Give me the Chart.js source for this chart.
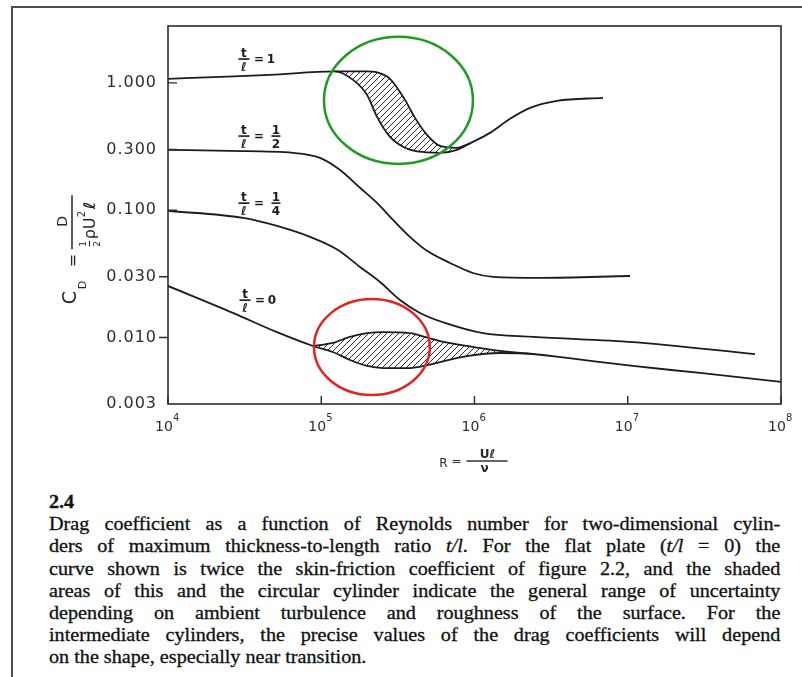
<!DOCTYPE html>
<html>
<head>
<meta charset="utf-8">
<title>Drag coefficient vs Reynolds number</title>
<script src="https://cdn.jsdelivr.net/npm/chart.js@4.4.0/dist/chart.umd.min.js"></script>
<style>
  html, body { margin: 0; padding: 0; background: #fff; }
  body { position: relative; width: 802px; height: 677px; overflow: hidden; }
  #pagina { position: absolute; left: 11px; top: 6px; width: 800px; height: 680px;
            border-left: 2px solid #505050; border-top: 2px solid #505050; }
  #grafico { position: absolute; left: 0; top: 0; }
  #legenda { position: absolute; left: 49px; top: 491px; width: 653px;
             transform: scaleX(1.12); transform-origin: 0 0;
             font-family: "Liberation Serif", "Times New Roman", serif; font-size: 18px;
             line-height: 22.2px; color: #111; -webkit-text-stroke: 0.3px #111; }
  #legenda .num { font-weight: bold; }
  #legenda .linha { display: flex; justify-content: space-between; white-space: nowrap; }
  #legenda .ultima { white-space: nowrap; }
</style>
</head>
<body>
<div id="pagina"></div>
<canvas id="grafico" width="802" height="480"></canvas>
<div id="legenda"></div>

<script>
// Valores: R = número de Reynolds, Cd = coeficiente de arrasto
const ticksR = [1e4, 1e5, 1e6, 1e7, 1e8];
const ticksCd = [0.003, 0.01, 0.03, 0.1, 0.3, 1];

// t/l = 1 (curva principal, transição cedo)
const r1 = [1e4, 2.18e4, 4.63e4, 1.229e5, 1.612e5, 1.988e5, 2.312e5, 2.810e5, 3.520e5, 4.090e5,
            4.898e5, 5.955e5, 7.688e5, 9.346e5, 1.262e6, 1.705e6, 2.302e6, 3.454e6, 6.895e6];
const cd1 = [1.077, 1.116, 1.157, 1.233, 1.057, 0.806, 0.541, 0.377, 0.309, 0.292,
             0.2845, 0.282, 0.298, 0.335, 0.405, 0.522, 0.637, 0.723, 0.763];
// t/l = 1 (limite superior da faixa hachurada)
const rFaixa1 = [1.229e5, 1.612e5, 1.988e5, 2.312e5, 2.810e5, 3.520e5, 4.090e5, 4.898e5, 5.955e5, 7.688e5, 9.346e5];
const cdFaixa1 = [1.233, 1.233, 1.233, 1.211, 1.077, 0.736, 0.531, 0.391, 0.320, 0.309, 0.335];

// t/l = 1/2
const r2 = [1e4, 2.54e4, 6.55e4, 9.82e4, 1.32e5, 1.79e5, 2.31e5, 2.94e5, 3.79e5, 4.90e5, 6.92e5, 9.77e5, 1.32e6, 2.68e6, 1.035e7];
const cd2 = [0.298, 0.292, 0.282, 0.258, 0.208, 0.150, 0.114, 0.0839, 0.0617, 0.0479, 0.0385, 0.0321, 0.0299, 0.0294, 0.0304];

// t/l = 1/4
const r4 = [1e4, 3.087e4, 5.144e4, 8.446e4, 1.286e5, 1.790e5, 2.418e5, 3.265e5, 4.410e5, 6.420e5, 1.136e6, 2.408e6, 1.082e7, 6.767e7];
const cd4 = [0.099, 0.0869, 0.0752, 0.0617, 0.0487, 0.0358, 0.0273, 0.0197, 0.01558, 0.0130, 0.0108, 0.0101, 0.0092, 0.0074];

// t/l = 0 (placa plana, limite inferior)
const r0 = [1e4, 2.65e4, 5.14e4, 8.83e4, 1.19e5, 1.54e5, 1.99e5, 2.53e5, 3.79e5, 4.98e5, 5.96e5, 8.93e5,
            1.47e6, 2.41e6, 4.02e6, 1.08e7, 2.96e7, 1e8];
const cd0 = [0.0254, 0.0156, 0.0110, 0.00857, 0.00769, 0.00665, 0.00597, 0.00575, 0.00575, 0.00608, 0.00641, 0.00714,
             0.00755, 0.00741, 0.00690, 0.00597, 0.00526, 0.00447];
// t/l = 0 (limite superior da faixa hachurada)
const rFaixa0 = [8.83e4, 1.19e5, 1.54e5, 1.99e5, 2.53e5, 3.79e5, 4.98e5, 5.96e5, 8.93e5, 1.47e6, 2.41e6];
const cdFaixa0 = [0.00857, 0.00906, 0.0101, 0.0108, 0.0110, 0.0108, 0.00991, 0.00937, 0.00857, 0.00783, 0.00741];

const COR = '#1c1c1c';
const FONTE = '"DejaVu Sans", sans-serif';

function pares(xs, ys) {
    return xs.map((x, i) => ({x: x, y: ys[i]}));
}

//padrão de hachura ////
function criarHachura(ctx) {
    const c = document.createElement('canvas');
    c.width = 6; c.height = 6;
    const p = c.getContext('2d');
    p.strokeStyle = '#2a2a2a';
    p.lineWidth = 1;
    p.beginPath();
    p.moveTo(0, 6); p.lineTo(6, 0);
    p.moveTo(-1, 1); p.lineTo(1, -1);
    p.moveTo(5, 7); p.lineTo(7, 5);
    p.stroke();
    return ctx.createPattern(c, 'repeat');
}

function curva(label, xs, ys, extra) {
    return Object.assign({
        label: label,
        data: pares(xs, ys),
        borderColor: COR,
        borderWidth: 1.8,
        pointRadius: 0,
        fill: false,
        cubicInterpolationMode: 'monotone'
    }, extra || {});
}

// rótulo "t/ℓ = valor" empilhado
function rotuloCurva(ctx, x, y, num, den) {
    ctx.font = 'bold 12px ' + FONTE;
    ctx.textAlign = 'center';
    ctx.textBaseline = 'alphabetic';
    ctx.fillText('t', x, y - 2);
    ctx.fillRect(x - 5.5, y - 0.6, 11, 1.6);
    ctx.fillText('ℓ', x, y + 12);
    ctx.fillText('=', x + 15, y + 4);
    if (den) {
        ctx.fillText(num, x + 32, y - 2);
        ctx.fillRect(x + 27.5, y - 0.6, 9, 1.6);
        ctx.fillText(den, x + 32, y + 12);
    } else {
        ctx.fillText(num, x + 27, y + 4);
    }
}

function tituloY(ctx, cx, cy) {
    ctx.save();
    ctx.translate(cx, cy);
    ctx.rotate(-Math.PI / 2);
    ctx.fillStyle = '#262626';
    ctx.strokeStyle = '#262626';
    ctx.textBaseline = 'alphabetic';
    ctx.textAlign = 'left';
    ctx.font = '19px ' + FONTE;
    ctx.fillText('C', -58, 4);
    ctx.font = '11px ' + FONTE;
    ctx.fillText('D', -43, 14);
    ctx.font = '16px ' + FONTE;
    ctx.fillText('=', -21, 6);
    ctx.lineWidth = 1.5;
    ctx.beginPath(); ctx.moveTo(-3, 0); ctx.lineTo(51, 0); ctx.stroke();
    ctx.textAlign = 'center';
    ctx.font = '14px ' + FONTE;
    ctx.fillText('D', 25, -5);
    ctx.font = '9px ' + FONTE;
    ctx.fillText('1', 2.5, 14);
    ctx.fillText('2', 2.5, 28);
    ctx.lineWidth = 1;
    ctx.beginPath(); ctx.moveTo(0, 17.5); ctx.lineTo(5.5, 17.5); ctx.stroke();
    ctx.textAlign = 'left';
    ctx.font = '16px ' + FONTE;
    ctx.fillText('ρ', 7, 23);
    ctx.fillText('U', 17, 23);
    ctx.font = '10px ' + FONTE;
    ctx.fillText('2', 29, 13);
    ctx.font = 'bold 16px ' + FONTE;
    ctx.fillText('ℓ', 37, 23);
    ctx.restore();
}

function tituloX(ctx, cx, cy) {
    ctx.save();
    ctx.fillStyle = '#262626';
    ctx.textAlign = 'center';
    ctx.textBaseline = 'alphabetic';
    ctx.font = '12px ' + FONTE;
    ctx.fillText('R', cx - 31, cy + 6);
    ctx.fillText('=', cx - 18, cy + 4);
    ctx.fillRect(cx - 8, cy - 0.7, 41, 1.4);
    ctx.font = 'bold 12px ' + FONTE;
    ctx.fillText('Uℓ', cx + 13, cy - 3);
    ctx.fillText('ν', cx + 10, cy + 11);
    ctx.restore();
}

const anotacoes = {
    id: 'anotacoes',
    beforeDraw(chart) {
        chart.ctx.letterSpacing = '1px';
    },
    afterDraw(chart, args, opts) {
        const {ctx, chartArea: a, scales: {x, y}} = chart;
        ctx.save();
        ctx.letterSpacing = '0px';

        // moldura do gráfico
        ctx.strokeStyle = '#2b2b2b';
        ctx.lineWidth = 1.6;
        ctx.strokeRect(a.left, a.top, a.right - a.left, a.bottom - a.top);

        // marcas dos eixos (para dentro / para fora)
        ctx.lineWidth = 1.4;
        ctx.beginPath();
        ticksCd.forEach((v, i) => {
            const py = y.getPixelForValue(v);
            const lado = opts.ladoMarcasY[i];
            ctx.moveTo(a.left, py);
            ctx.lineTo(a.left + lado * 9, py);
        });
        ticksR.forEach(v => {
            const px = x.getPixelForValue(v);
            ctx.moveTo(px, a.bottom);
            ctx.lineTo(px, a.bottom - 8);
        });
        ctx.stroke();

        // rótulos do eixo x: 10 com expoente
        ctx.fillStyle = '#2e2e2e';
        ticksR.forEach(v => {
            const px = x.getPixelForValue(v);
            ctx.textAlign = 'center';
            ctx.textBaseline = 'alphabetic';
            ctx.font = '14px ' + FONTE;
            ctx.fillText('10', px - 4, a.bottom + 27);
            ctx.textAlign = 'left';
            ctx.font = '10px ' + FONTE;
            ctx.fillText(String(Math.round(Math.log10(v))), px + 5, a.bottom + 17);
        });

        tituloX(ctx, (a.left + a.right) / 2, a.bottom + 57);
        tituloY(ctx, a.left - 96, y.getPixelForValue(0.052));

        // rótulos das curvas
        ctx.fillStyle = '#1a1a1a';
        opts.rotulos.forEach(r => {
            rotuloCurva(ctx, x.getPixelForValue(r.R), y.getPixelForValue(r.cd), r.num, r.den);
        });

        // elipses de destaque
        opts.elipses.forEach(e => {
            const cx = x.getPixelForValue(e.R);
            const cy = y.getPixelForValue(e.cd);
            const rx = x.getPixelForValue(e.R * Math.pow(10, e.decX)) - cx;
            const ry = cy - y.getPixelForValue(e.cd * Math.pow(10, e.decY));
            ctx.strokeStyle = e.cor;
            ctx.lineWidth = 2.5;
            ctx.beginPath();
            ctx.ellipse(cx, cy, rx, ry, 0, 0, Math.PI * 2);
            ctx.stroke();
        });
        ctx.restore();
    }
};

const ctx = document.getElementById('grafico').getContext('2d');
const hachura = criarHachura(ctx);

new Chart(ctx, {
    type: 'line',
    data: {
        datasets: [
            curva('t/l = 1', r1, cd1),
            curva('t/l = 1 faixa', rFaixa1, cdFaixa1, {fill: {target: 0}, backgroundColor: hachura}),
            curva('t/l = 1/2', r2, cd2),
            curva('t/l = 1/4', r4, cd4),
            curva('t/l = 0', r0, cd0),
            curva('t/l = 0 faixa', rFaixa0, cdFaixa0, {fill: {target: 4}, backgroundColor: hachura})
        ]
    },
    options: {
        responsive: false,
        animation: false,
        layout: {padding: {top: 26, right: 21, left: 0, bottom: 0}},
        plugins: {
            legend: {display: false},
            tooltip: {enabled: false},
            anotacoes: {
                ladoMarcasY: [0, -1, -1, 1, 1, 1],
                rotulos: [
                    {R: 3.13e4, cd: 1.546, num: '1'},
                    {R: 3.13e4, cd: 0.3836, num: '1', den: '2'},
                    {R: 3.13e4, cd: 0.114, num: '1', den: '4'},
                    {R: 3.18e4, cd: 0.0197, num: '0'}
                ],
                elipses: [
                    {R: 3.19e5, cd: 0.729, decX: 0.486, decY: 0.499, cor: '#1f9a24'},
                    {R: 2.14e5, cd: 0.00841, decX: 0.378, decY: 0.377, cor: '#e2231f'}
                ]
            }
        },
        scales: {
            x: {
                type: 'logarithmic',
                min: 1e4,
                max: 1e8,
                afterBuildTicks: s => { s.ticks = ticksR.map(v => ({value: v})); },
                afterFit: s => { s.height = 76; },
                ticks: {display: false},
                grid: {display: false, drawTicks: false},
                border: {display: false}
            },
            y: {
                type: 'logarithmic',
                min: 0.003,
                max: 2.8,
                afterBuildTicks: s => { s.ticks = ticksCd.map(v => ({value: v})); },
                afterFit: s => { s.width = 168; },
                ticks: {
                    callback: v => Number(v).toFixed(3),
                    font: {family: 'DejaVu Sans', size: 16},
                    color: '#2e2e2e',
                    padding: 11,
                    autoSkip: false
                },
                grid: {display: false, drawTicks: false},
                border: {display: false}
            }
        }
    },
    plugins: [anotacoes]
});

// legenda da figura (texto justificado, linha a linha)
const linhasLegenda = [
    'Drag coefficient as a function of Reynolds number for two-dimensional cylin-',
    'ders of maximum thickness-to-length ratio *t/l*. For the flat plate (*t/l* = 0) the',
    'curve shown is twice the skin-friction coefficient of figure 2.2, and the shaded',
    'areas of this and the circular cylinder indicate the general range of uncertainty',
    'depending on ambient turbulence and roughness of the surface. For the',
    'intermediate cylinders, the precise values of the drag coefficients will depend',
    'on the shape, especially near transition.'
];

function italico(s) {
    return s.replace(/\*([^*]+)\*/g, '<i>$1</i>');
}

const legenda = document.getElementById('legenda');
let html = '<div class="num">2.4</div>';
linhasLegenda.forEach((l, i) => {
    if (i === linhasLegenda.length - 1) {
        html += '<div class="ultima">' + italico(l) + '</div>';
    } else {
        html += '<div class="linha">' + l.split(' ').map(w => '<span>' + italico(w) + '</span>').join('') + '</div>';
    }
});
legenda.innerHTML = html;
</script>
</body>
</html>
